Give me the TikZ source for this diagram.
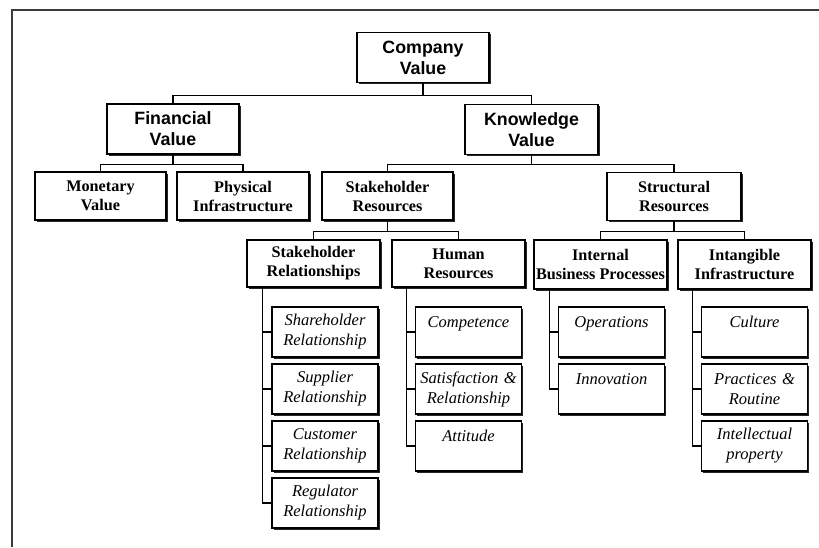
\documentclass[tikz,border=0pt]{standalone}
\usepackage{fontspec}
\setmainfont{Liberation Serif}
\newfontfamily\headfont{Liberation Sans}
\usetikzlibrary{shadows}
\definecolor{FrameGrey}{HTML}{3A3A3A}
\begin{document}
\begin{tikzpicture}[x=1pt,y=-1pt,line width=1.3pt]
  \tikzstyle{box}=[draw=black,fill=white,line width=1.3pt,inner sep=2pt,align=center,
    drop shadow={shadow xshift=1.8pt,shadow yshift=-1.8pt,fill=black!85,opacity=1}]
  \tikzstyle{topbox}=[box,minimum width=132pt,minimum height=50pt,
    font=\headfont\bfseries\fontsize{17.8}{21}\selectfont]
  \tikzstyle{midbox}=[box,minimum width=132pt,minimum height=48pt,
    font=\bfseries\fontsize{16.2}{19}\selectfont]
  \tikzstyle{leafbox}=[box,minimum width=104pt,minimum height=50pt,text width=102pt,
    font=\itshape\fontsize{16.5}{20}\selectfont]
  \tikzstyle{link}=[draw=black,line width=1.3pt]
  \useasboundingbox (0,0) rectangle (819,547);
  % frame
  \draw[FrameGrey,line width=2pt] (12,547) -- (12,10) -- (819,10);
  % top levels
  \node[topbox] (cv) at (423,57.5) {Company\\Value};
  \node[topbox] (fv) at (173,129) {Financial\\Value};
  \node[topbox,minimum width=133pt] (kv) at (531.5,129.5) {Knowledge\\Value};
  \node[midbox,minimum width=131pt] (mv) at (100.5,196) {Monetary\\Value};
  \node[midbox] (pi) at (243,196) {Physical\\Infrastructure};
  \node[midbox,minimum width=131pt] (sres) at (387.5,196) {Stakeholder\\Resources};
  \node[midbox,minimum width=134pt] (stres) at (674,196.5) {Structural\\Resources};
  \node[midbox,minimum width=133pt,minimum height=47pt] (srel) at (313.5,263.5) {Stakeholder\\Relationships};
  \node[midbox,minimum width=133pt,minimum height=47pt] (hr) at (458.5,263.5) {Human\\Resources};
  \node[midbox,minimum width=133pt,minimum height=49pt,inner sep=0pt] (ibp) at (600.5,264.5) {Internal\\Business Processes};
  \node[midbox,minimum width=133pt,minimum height=49pt] (ii) at (744.5,264.5) {Intangible\\Infrastructure};
  % leaves
  \node[leafbox] (shr) at (325,332) {Shareholder\\Relationship};
  \node[leafbox] (sup) at (325,389) {Supplier\\Relationship};
  \node[leafbox] (cus) at (325,446) {Customer\\Relationship};
  \node[leafbox] (reg) at (325,503) {Regulator\\Relationship};
  \node[leafbox] (com) at (468.5,332) {Competence\\\mbox{}};
  \node[leafbox] (sat) at (468.5,389) {Satisfaction \&\\Relationship};
  \node[leafbox] (att) at (468.5,446) {Attitude\\\mbox{}};
  \node[leafbox] (ope) at (611.5,332) {Operations\\\mbox{}};
  \node[leafbox] (inn) at (611.5,389) {Innovation\\\mbox{}};
  \node[leafbox] (cul) at (754.5,332) {Culture\\\mbox{}};
  \node[leafbox] (pra) at (754.5,389) {Practices \&\\Routine};
  \node[leafbox] (ipr) at (754.5,446) {Intellectual\\property};
  % tree links
  \draw[link] (cv.south) -- ++(0,12) coordinate (cvj);
  \draw[link] (cvj) -| (fv.north);
  \draw[link] (cvj) -| (kv.north);
  \draw[link] (fv.south) -- ++(0,10) coordinate (fvj);
  \draw[link] (fvj) -| (mv.north);
  \draw[link] (fvj) -| (pi.north);
  \draw[link] (kv.south) -- ++(0,9) coordinate (kvj);
  \draw[link] (kvj) -| (sres.north);
  \draw[link] (kvj) -| (stres.north);
  \draw[link] (sres.south) -- ++(0,11) coordinate (srj);
  \draw[link] (srj) -| (srel.north);
  \draw[link] (srj) -| (hr.north);
  \draw[link] (stres.south) -- ++(0,10) coordinate (stj);
  \draw[link] (stj) -| (ibp.north);
  \draw[link] (stj) -| (ii.north);
  % side links
  \draw[link] ([xshift=16pt]srel.south west) |- (shr.west);
  \draw[link] ([xshift=16pt]srel.south west) |- (sup.west);
  \draw[link] ([xshift=16pt]srel.south west) |- (cus.west);
  \draw[link] ([xshift=16pt]srel.south west) |- (reg.west);
  \draw[link] ([xshift=15pt]hr.south west) |- (com.west);
  \draw[link] ([xshift=15pt]hr.south west) |- (sat.west);
  \draw[link] ([xshift=15pt]hr.south west) |- (att.west);
  \draw[link] ([xshift=16pt]ibp.south west) |- (ope.west);
  \draw[link] ([xshift=16pt]ibp.south west) |- (inn.west);
  \draw[link] ([xshift=15pt]ii.south west) |- (cul.west);
  \draw[link] ([xshift=15pt]ii.south west) |- (pra.west);
  \draw[link] ([xshift=15pt]ii.south west) |- (ipr.west);
\end{tikzpicture}
\end{document}
